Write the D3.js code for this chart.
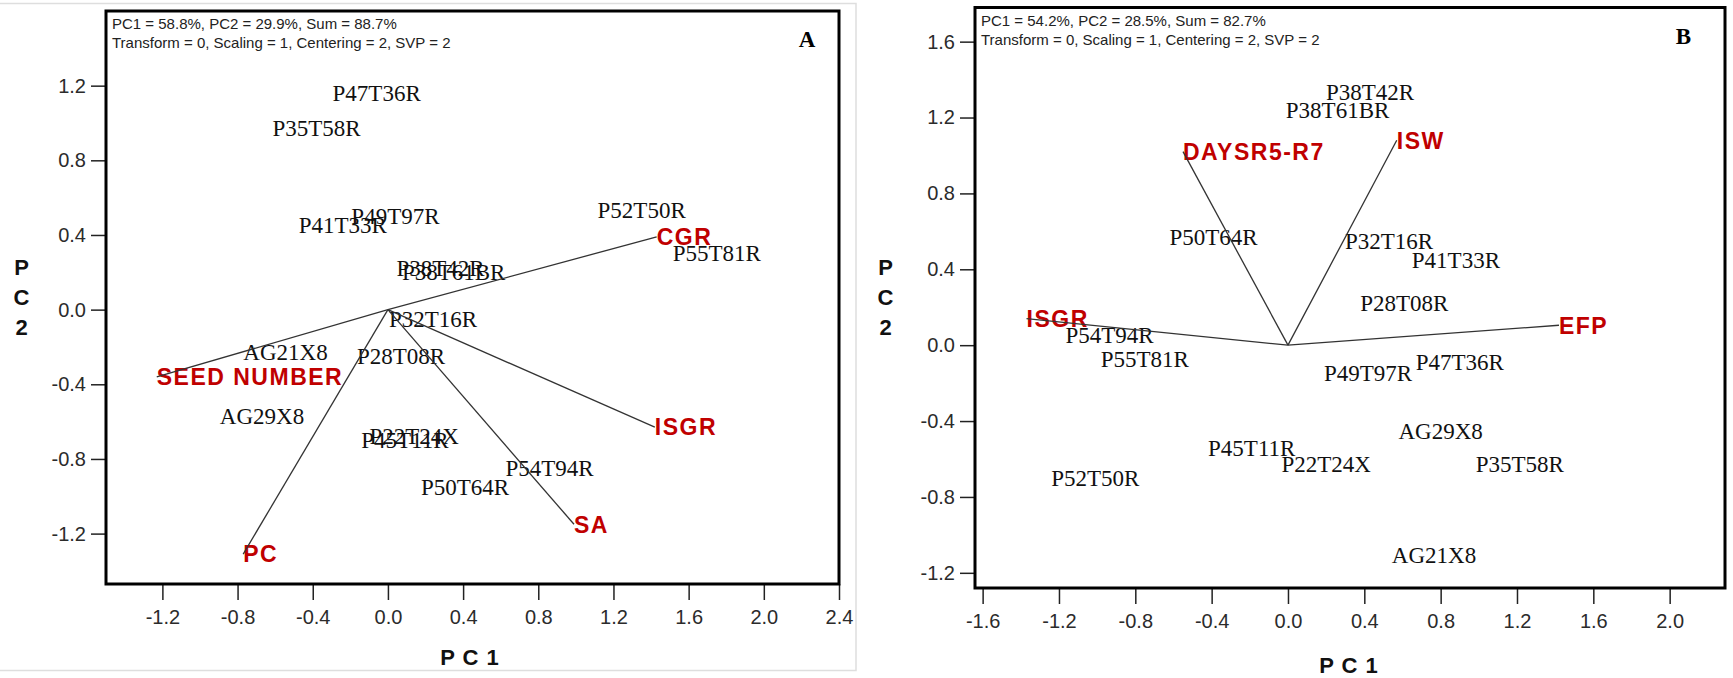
<!DOCTYPE html>
<html>
<head>
<meta charset="utf-8">
<script src="https://cdn.jsdelivr.net/npm/d3@7/dist/d3.min.js"></script>
<style>
  body { margin: 0; background: #fff; }
  .obs { font-family: "Liberation Serif", "Times New Roman", serif; font-size: 23px; fill: #111; }
  .var { font-family: "Liberation Sans", Arial, sans-serif; font-size: 23px; font-weight: bold; fill: #c00000; letter-spacing: 1.5px; }
  .vec { stroke: #333; stroke-width: 1.3; fill: none; }
  .frame { fill: none; stroke: #000; stroke-width: 3; }
  .axis text { font-family: "Liberation Sans", Arial, sans-serif; font-size: 20px; fill: #2b2b2b; }
  .axis line { stroke: #222; stroke-width: 1.5; }
  .head { font-family: "Liberation Sans", Arial, sans-serif; font-size: 15px; fill: #222; }
  .panel { font-family: "Liberation Serif", "Times New Roman", serif; font-size: 23px; font-weight: bold; fill: #000; }
  .title { font-family: "Liberation Sans", Arial, sans-serif; font-size: 22px; font-weight: bold; fill: #111; }
</style>
</head>
<body>
<script>
const width = 1733
const height = 678

// panel A: genotype labels [name, PC1, PC2]
const obsA = [
  ["P47T36R", -0.06, 1.16],
  ["P35T58R", -0.38, 0.97],
  ["P49T97R", 0.04, 0.50],
  ["P41T33R", -0.24, 0.45],
  ["P52T50R", 1.35, 0.53],
  ["P55T81R", 1.75, 0.30],
  ["P38T42R", 0.28, 0.22],
  ["P38T61BR", 0.35, 0.20],
  ["P32T16R", 0.24, -0.05],
  ["AG21X8", -0.545, -0.23],
  ["P28T08R", 0.07, -0.25],
  ["AG29X8", -0.67, -0.57],
  ["P22T24X", 0.14, -0.68],
  ["P45T11R", 0.09, -0.70],
  ["P54T94R", 0.86, -0.85],
  ["P50T64R", 0.41, -0.95]
]
// panel A: trait vectors
const varsA = [
  ["CGR", 1.43, 0.39],
  ["SEED NUMBER", -1.23, -0.36],
  ["ISGR", 1.42, -0.63],
  ["SA", 0.99, -1.15],
  ["PC", -0.77, -1.31]
]
const xTicksA = [-1.2, -0.8, -0.4, 0.0, 0.4, 0.8, 1.2, 1.6, 2.0, 2.4]
const yTicksA = [-1.2, -0.8, -0.4, 0.0, 0.4, 0.8, 1.2]
const headA = ["PC1 = 58.8%, PC2 = 29.9%, Sum = 88.7%", "Transform = 0, Scaling = 1, Centering = 2, SVP = 2"]

// panel B
const obsB = [
  ["P38T42R", 0.43, 1.33],
  ["P38T61BR", 0.26, 1.24],
  ["P50T64R", -0.39, 0.57],
  ["P32T16R", 0.53, 0.545],
  ["P41T33R", 0.88, 0.445],
  ["P28T08R", 0.61, 0.22],
  ["P54T94R", -0.935, 0.05],
  ["P55T81R", -0.75, -0.075],
  ["P49T97R", 0.42, -0.15],
  ["P47T36R", 0.90, -0.09],
  ["AG29X8", 0.80, -0.455],
  ["P45T11R", -0.19, -0.545],
  ["P22T24X", 0.20, -0.63],
  ["P35T58R", 1.215, -0.63],
  ["P52T50R", -1.01, -0.70],
  ["AG21X8", 0.765, -1.11]
]
const varsB = [
  ["DAYSR5-R7", -0.55, 1.02],
  ["ISW", 0.57, 1.08],
  ["ISGR", -1.37, 0.14],
  ["EFP", 1.42, 0.105]
]
const xTicksB = [-1.6, -1.2, -0.8, -0.4, 0.0, 0.4, 0.8, 1.2, 1.6, 2.0]
const yTicksB = [-1.2, -0.8, -0.4, 0.0, 0.4, 0.8, 1.2, 1.6]
const headB = ["PC1 = 54.2%, PC2 = 28.5%, Sum = 82.7%", "Transform = 0, Scaling = 1, Centering = 2, SVP = 2"]

const svg = d3.select("body")
    .append("svg")
    .attr("width", width)
    .attr("height", height)

// faint screenshot border round panel A
svg.append("rect")
    .attr("x", -2).attr("y", 3.5)
    .attr("width", 858).attr("height", 667)
    .attr("fill", "none")
    .attr("stroke", "#dedede")
    .attr("stroke-width", 1.5)

function drawPanel(p) {
    const x = d3.scaleLinear().domain(p.xDomain).range([p.left, p.right])
    const y = d3.scaleLinear().domain(p.yDomain).range([p.bottom, p.top])
    const g = svg.append("g")
    const fmt = d => d.toFixed(1)

    g.append("g")
        .attr("class", "axis")
        .attr("transform", `translate(0,${p.bottom})`)
        .call(d3.axisBottom(x).tickValues(p.xTicks).tickFormat(fmt)
            .tickSize(16).tickSizeOuter(0).tickPadding(10))
        .call(a => a.select(".domain").remove())
    g.append("g")
        .attr("class", "axis")
        .attr("transform", `translate(${p.left},0)`)
        .call(d3.axisLeft(y).tickValues(p.yTicks).tickFormat(fmt)
            .tickSize(15).tickSizeOuter(0).tickPadding(5))
        .call(a => a.select(".domain").remove())

    // header lines
    g.selectAll(".head").data(p.head).join("text")
        .attr("class", "head")
        .attr("x", p.left + 6)
        .attr("y", (d, i) => p.top + 18 + i * 19)
        .text(d => d)

    g.append("text")
        .attr("class", "panel")
        .attr("x", p.tagX).attr("y", p.top + 36)
        .attr("text-anchor", "middle")
        .text(p.tag)

    g.selectAll(".obs").data(p.obs).join("text")
        .attr("class", "obs")
        .attr("x", d => x(d[1]))
        .attr("y", d => y(d[2]))
        .attr("dy", "0.33em")
        .attr("text-anchor", "middle")
        .text(d => d[0])

    g.selectAll(".var").data(p.vars).join("text")
        .attr("class", "var")
        .attr("x", d => x(d[1]))
        .attr("y", d => y(d[2]))
        .attr("dy", "0.36em")
        .text(d => d[0])

    g.selectAll(".vec").data(p.vars).join("line")
        .attr("class", "vec")
        .attr("x1", x(0)).attr("y1", y(0))
        .attr("x2", d => x(d[1]))
        .attr("y2", d => y(d[2]))

    g.append("rect")
        .attr("class", "frame")
        .attr("x", p.left).attr("y", p.top)
        .attr("width", p.right - p.left)
        .attr("height", p.bottom - p.top)

    // axis titles
    g.append("text")
        .attr("class", "title")
        .attr("x", p.pc1X).attr("y", p.pc1Y)
        .attr("text-anchor", "middle")
        .style("letter-spacing", "1px")
        .text("P C 1")
    g.selectAll(".ylab").data(["P", "C", "2"]).join("text")
        .attr("class", "title ylab")
        .attr("x", p.pc2X)
        .attr("y", (d, i) => 275 + i * 30)
        .attr("text-anchor", "middle")
        .text(d => d)
}

drawPanel({
    obs: obsA, vars: varsA, xTicks: xTicksA, yTicks: yTicksA, head: headA, tag: "A",
    xDomain: [-1.5, 2.4], yDomain: [-1.47, 1.6],
    left: 106, right: 839, top: 11, bottom: 584,
    tagX: 807, pc1X: 470, pc1Y: 665, pc2X: 21.5
})
drawPanel({
    obs: obsB, vars: varsB, xTicks: xTicksB, yTicks: yTicksB, head: headB, tag: "B",
    xDomain: [-1.64, 2.29], yDomain: [-1.28, 1.78],
    left: 975, right: 1725, top: 7.5, bottom: 588,
    tagX: 1683.5, pc1X: 1349, pc1Y: 673, pc2X: 885.5
})
</script>
</body>
</html>
